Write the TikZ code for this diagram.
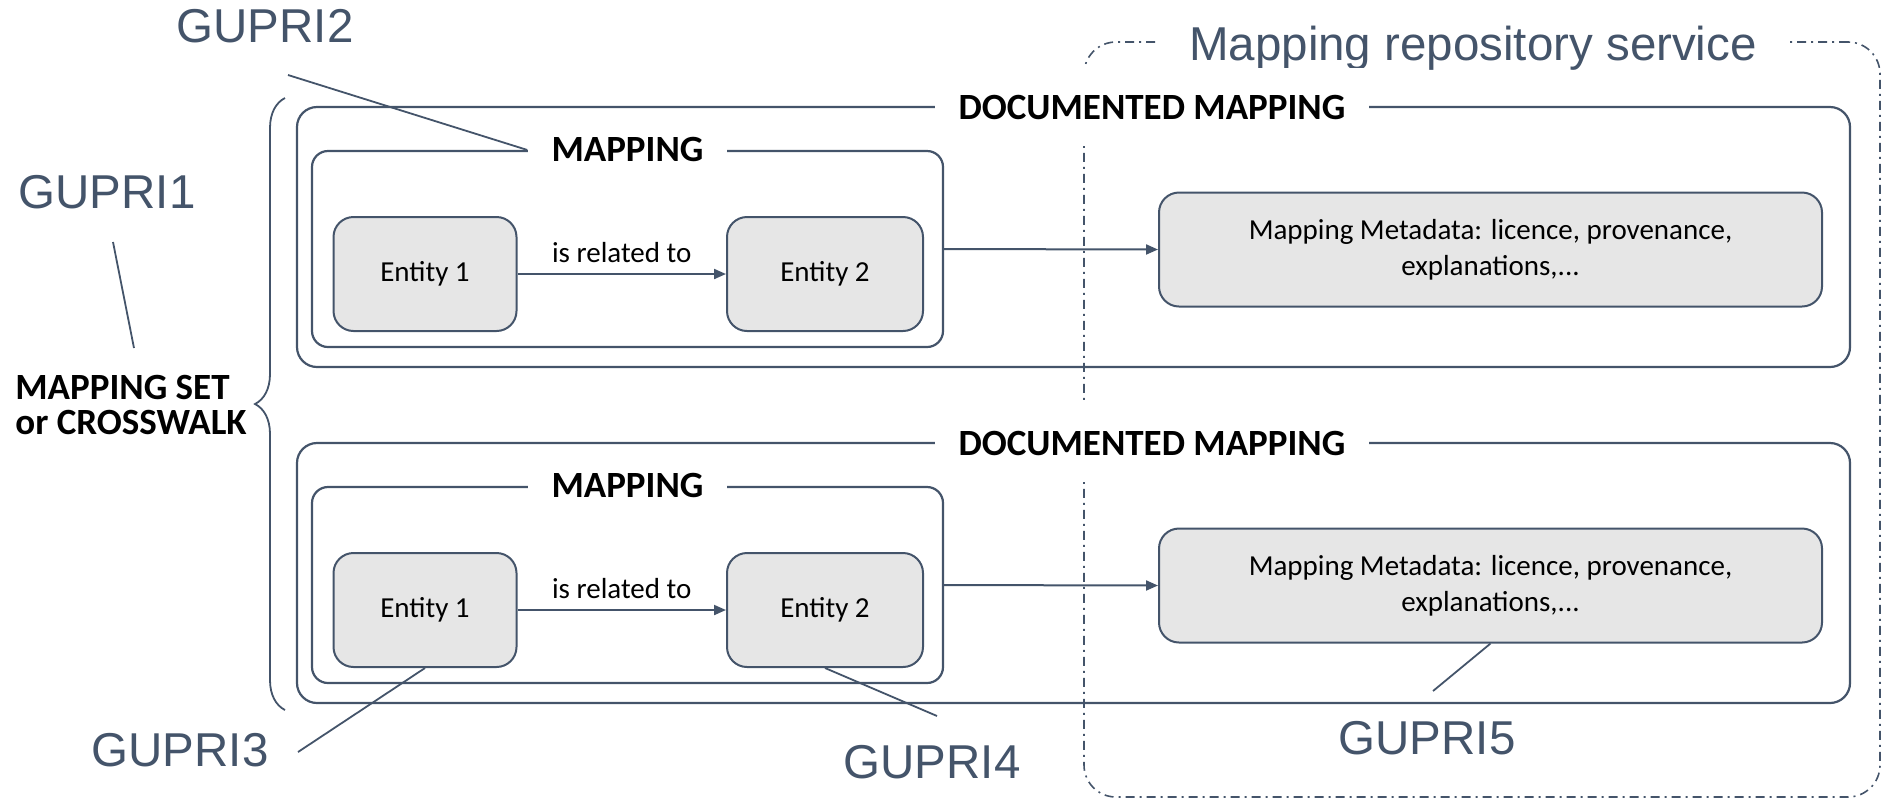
\documentclass[tikz,border=0pt]{standalone}
\usepackage{fontspec}
\setmainfont{Carlito}
\newfontfamily\gupfont{Liberation Sans}
\usetikzlibrary{arrows.meta,positioning,decorations.pathreplacing}
\definecolor{slate}{HTML}{44546A}
\definecolor{boxgray}{HTML}{E6E6E6}
\tikzset{entity/.style={draw=slate,fill=boxgray,rounded corners=10pt,line width=1pt,
  minimum height=57pt,align=center,font=\fontsize{14.5}{18}\selectfont},
  frame/.style={draw=slate,rounded corners=8pt,line width=1.1pt},
  boxtitle/.style={fill=white,inner xsep=12pt,font=\bfseries\fontsize{18.5}{20}\selectfont},
  gupri/.style={text=slate,font=\gupfont\fontsize{23.75}{28}\selectfont},
  leader/.style={draw=slate,line width=0.9pt},
  flow/.style={-{Triangle[length=6pt,width=5pt]},draw=slate,line width=1pt},
  service/.style={draw=slate,line width=0.8pt,rounded corners=16pt,
    dash pattern=on 4.5pt off 2.5pt on 1pt off 2.5pt}}

\begin{document}
\begin{tikzpicture}[x=0.5pt,y=-0.5pt]
\useasboundingbox (0,0) rectangle (1883,800);
% repository service
\node[service,minimum width=398pt,minimum height=377.5pt] (repo) at (1482,419.5) {};
\node[gupri,fill=white,inner xsep=15pt,anchor=base] (repoTitle) at (1473,60) {Mapping repository service};
% one row per documented mapping
\foreach \r/\dy in {A/0,B/336}{
  \node[frame,rounded corners=10pt,minimum width=776.5pt,minimum height=130pt] (doc\r) at (1073.5,237+\dy) {};
  \node[boxtitle,minimum height=39pt] (docTitle\r) at (1152,107+\dy) {DOCUMENTED MAPPING};
  \node[frame,minimum width=315.5pt,minimum height=98pt] (map\r) at (627.5,249+\dy) {};
  \node[boxtitle] (mapTitle\r) at (map\r.north) {MAPPING};
  \node[entity,minimum width=91.5pt] (one\r) at (425,274+\dy) {Entity 1};
  \node[entity,minimum width=98pt] (two\r) at (825,274+\dy) {Entity 2};
  \node[entity,minimum width=331.5pt] (meta\r) at (1490.5,249.5+\dy) {Mapping Metadata: licence, provenance,\\explanations,...};
  \draw[flow] (one\r) -- node[above=2pt,font=\fontsize{14.5}{18}\selectfont] (rel\r) {is related to} (two\r);
  \draw[flow] (map\r.east) -- (meta\r.west);
}
% the set of mappings
\draw[slate,line width=0.9pt,decorate,decoration={brace,amplitude=15pt}] (285,710) -- (285,98);
\node[anchor=west,align=left,inner sep=0pt,font=\bfseries\fontsize{18.5}{17.5}\selectfont] (crosswalk) at (15,405) {MAPPING SET\\or CROSSWALK};
% identifiers
\node[gupri] (g1) at (107,192) {GUPRI1};
\node[gupri] (g2) at (265,26) {GUPRI2};
\node[gupri] (g3) at (180,750) {GUPRI3};
\node[gupri] (g4) at (932,762) {GUPRI4};
\node[gupri] (g5) at (1427,738) {GUPRI5};
\coordinate (g1top) at (113,242);
\coordinate (g1bot) at (134,348);
\coordinate (g2tail) at (288,75);
\coordinate (g3tail) at (298,752);
\coordinate (g4tail) at (937,716);
\coordinate (g5tail) at (1433,691);
\draw[leader] (g1top) -- (g1bot);
\draw[leader] (g2tail) -- (mapTitleA.west);
\draw[leader] (oneB.south) -- (g3tail);
\draw[leader] (twoB.south) -- (g4tail);
\draw[leader] (metaB.south) -- (g5tail);
\end{tikzpicture}
\end{document}
